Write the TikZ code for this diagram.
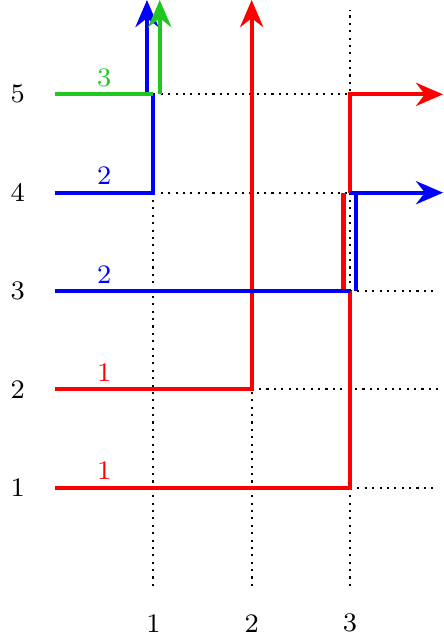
\documentclass[tikz,border=0pt]{standalone}
\usetikzlibrary{arrows.meta}
\definecolor{mygreen}{rgb}{0.13,0.78,0.13}
\begin{document}
\begin{tikzpicture}[x=0.983cm,y=0.983cm,
  grid/.style={line width=0.6pt,dash pattern=on 0.6pt off 1.5pt},
  wire/.style={line width=1.2pt},
  tip/.style={-{Stealth[length=2.7mm,width=2.3mm]}},
  lab/.style={font=\fontsize{7.6}{9}\selectfont,inner sep=0pt}]
\useasboundingbox (-0.56,-0.55) rectangle (3.947,5.96);
% dotted guides
\draw[grid] (1,0) -- (1,4);
\draw[grid] (2,0) -- (2,2);
\draw[grid] (3,0) -- (3,5.86);
\draw[grid] (1,5) -- (3,5);
\draw[grid] (1,4) -- (3,4);
\draw[grid] (3,3) -- (3.9,3);
\draw[grid] (2,2) -- (3.9,2);
\draw[grid] (3,1) -- (3.9,1);
% axis labels
\foreach \i in {1,...,5} \node[lab] (r\i) at (-0.38,\i) {\i};
\foreach \i in {1,2,3} \node[lab] (c\i) at (\i,-0.38) {\i};
% red wires
\draw[wire,red] (0,1) -- (3,1) -- (3,3);
\draw[wire,red] (2.935,3) -- (2.935,4);
\draw[wire,red,tip] (3,4) -- (3,5) -- (3.947,5);
\draw[wire,red,tip] (0,2) -- (2,2) -- (2,5.96);
% blue wires
\draw[wire,blue] (0,3) -- (3,3);
\draw[wire,blue] (3.065,3) -- (3.065,4);
\draw[wire,blue,tip] (3,4) -- (3.947,4);
\draw[wire,blue] (0,4) -- (1,4) -- (1,5);
\draw[wire,blue,tip] (0.935,5) -- (0.935,5.96);
% green wire
\draw[wire,mygreen] (0,5) -- (1,5);
\draw[wire,mygreen,tip] (1.065,5) -- (1.065,5.96);
% wire labels
\node[lab,text=mygreen] (l5) at (0.5,5.17) {3};
\node[lab,text=blue] (l4) at (0.5,4.17) {2};
\node[lab,text=blue] (l3) at (0.5,3.17) {2};
\node[lab,text=red] (l2) at (0.5,2.17) {1};
\node[lab,text=red] (l1) at (0.5,1.17) {1};
\end{tikzpicture}
\end{document}
